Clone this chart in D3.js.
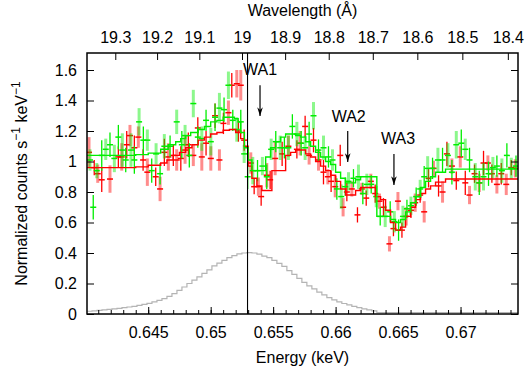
<!DOCTYPE html>
<html>
<head>
<meta charset="utf-8">
<script src="https://cdn.jsdelivr.net/npm/d3@7"></script>
<style>
body { margin: 0; background: #fff; }
svg text { font-family: "Liberation Sans", Arial, Helvetica, sans-serif; fill: #000; }
</style>
</head>
<body>
<div id="canvas"></div>
<script>
var WIDTH = 526, HEIGHT = 374;
var MARGIN = {left: 87, right: 8, top: 53, bottom: 60};
var HC = 12.3984; // keV * Angstrom
var FONT_SIZE = 16;

// axes
var energyDomain = [0.6401, 0.6746];
var countDomain = [0, 1.7115];
var energyTicks = [0.645, 0.65, 0.655, 0.66, 0.665, 0.67];
var wavelengthTicks = [19.3, 19.2, 19.1, 19, 18.9, 18.8, 18.7, 18.6, 18.5, 18.4];
var countTicks = [0, 0.2, 0.4, 0.6, 0.8, 1, 1.2, 1.4, 1.6];

// red spectrum
var redEnergy = [0.64026,0.64068,0.64096,0.64128,0.64194,0.64261,0.64288,0.64328,0.64354,0.64389,
  0.64421,0.64459,0.64493,0.64560,0.64595,0.64629,0.64661,0.64701,0.64728,0.64761,
  0.64795,0.64821,0.64861,0.64897,0.64929,0.64963,0.65001,0.65035,0.65070,0.65102,
  0.65142,0.65169,0.65209,0.65222,0.65241,0.65268,0.65321,0.65348,0.65382,0.65404,
  0.65449,0.65476,0.65516,0.65572,0.65622,0.65690,0.65716,0.65756,0.65788,0.65823,
  0.65863,0.65903,0.65938,0.65964,0.65997,0.66037,0.66060,0.66090,0.66130,0.66175,
  0.66210,0.66245,0.66282,0.66317,0.66351,0.66383,0.66431,0.66463,0.66499,0.66531,
  0.66565,0.66603,0.66637,0.66677,0.66709,0.66744,0.66784,0.66824,0.66856,0.66891,
  0.66931,0.66966,0.66998,0.67038,0.67072,0.67112,0.67150,0.67184,0.67219,0.67251,
  0.67291,0.67326,0.67366,0.67406,0.67438];
var redCounts = [1.06,0.96,0.92,0.88,0.885,1.03,1.03,1.11,1.17,1.09,
  1.16,1.01,0.93,0.90,0.82,1.06,1.03,1.04,1.01,1.02,
  1.075,1.11,1.04,1.22,1.03,1.12,1.02,1.30,1.01,1.25,
  1.32,1.50,1.51,1.20,1.50,1.14,0.99,0.835,0.835,0.77,
  0.91,0.88,1.02,1.05,1.10,1.08,1.12,1.23,1.04,1.14,
  1.01,0.93,0.90,0.87,0.835,1.04,0.70,0.80,0.82,0.65,
  0.82,0.76,0.87,0.79,0.74,0.70,0.46,0.56,0.74,0.55,
  0.64,0.68,0.73,0.78,0.67,0.89,0.955,0.84,0.80,1.05,
  0.97,0.875,1.03,0.86,0.78,0.92,0.86,0.99,0.99,0.92,
  0.85,0.92,0.85,0.96,0.955];
var redErr = [0.10,0.05,0.06,0.08,0.09,0.07,0.09,0.09,0.07,0.08,
  0.07,0.07,0.09,0.06,0.08,0.09,0.09,0.07,0.07,0.08,
  0.09,0.08,0.07,0.07,0.09,0.08,0.08,0.08,0.07,0.07,
  0.08,0.08,0.09,0.07,0.10,0.07,0.07,0.05,0.06,0.06,
  0.08,0.06,0.11,0.08,0.07,0.06,0.08,0.07,0.06,0.08,
  0.07,0.08,0.05,0.07,0.07,0.07,0.06,0.06,0.05,0.05,
  0.04,0.05,0.05,0.06,0.05,0.06,0.05,0.05,0.06,0.05,
  0.06,0.05,0.06,0.05,0.07,0.06,0.05,0.07,0.07,0.08,
  0.05,0.06,0.07,0.08,0.06,0.06,0.06,0.08,0.05,0.06,
  0.06,0.07,0.07,0.05,0.06];

// green spectrum
var greenEnergy = [0.64034,0.64060,0.64088,0.64128,0.64160,0.64194,0.64229,0.64261,0.64293,0.64320,
  0.64362,0.64389,0.64427,0.64461,0.64493,0.64528,0.64563,0.64595,0.64629,0.64675,
  0.64728,0.64769,0.64795,0.64829,0.64861,0.64897,0.64929,0.64963,0.65001,0.65035,
  0.65070,0.65107,0.65142,0.65177,0.65209,0.65241,0.65268,0.65296,0.65337,0.65375,
  0.65414,0.65449,0.65484,0.65521,0.65556,0.65590,0.65622,0.65654,0.65690,0.65724,
  0.65756,0.65788,0.65823,0.65863,0.65903,0.65943,0.65975,0.66010,0.66045,0.66077,
  0.66103,0.66143,0.66183,0.66218,0.66250,0.66285,0.66325,0.66357,0.66397,0.66437,
  0.66470,0.66504,0.66539,0.66571,0.66603,0.66645,0.66677,0.66709,0.66737,0.66776,
  0.66819,0.66856,0.66899,0.66931,0.66966,0.67006,0.67038,0.67072,0.67118,0.67150,
  0.67184,0.67224,0.67259,0.67291,0.67331,0.67371,0.67406,0.67444];
var greenCounts = [1.01,0.70,0.94,1.04,1.08,1.11,1.02,1.16,1.075,1.01,
  1.075,1.01,1.26,1.14,1.14,0.94,1.05,0.92,1.10,1.10,
  1.26,1.11,1.17,1.04,1.38,1.16,1.15,1.27,1.13,1.29,
  1.35,1.34,1.50,1.27,1.21,1.26,1.05,0.90,0.94,0.94,
  0.97,0.90,1.08,1.13,1.09,1.09,1.09,1.23,1.18,1.12,
  1.09,1.18,1.30,1.075,1.09,1.03,1.01,0.82,0.77,0.835,
  0.87,0.89,0.90,0.79,0.85,0.85,0.77,0.64,0.64,0.67,
  0.605,0.55,0.64,0.69,0.71,0.77,0.82,0.90,0.955,0.955,
  1.01,1.01,1.04,0.93,1.11,1.12,1.08,1.01,0.90,0.86,
  0.90,0.92,0.96,0.97,0.94,1.04,0.955,0.97];
var greenErr = [0.07,0.08,0.05,0.10,0.07,0.08,0.09,0.08,0.11,0.08,
  0.11,0.09,0.09,0.09,0.07,0.08,0.07,0.07,0.08,0.07,
  0.08,0.09,0.07,0.08,0.09,0.07,0.08,0.07,0.09,0.09,
  0.10,0.08,0.09,0.07,0.08,0.08,0.06,0.08,0.09,0.07,
  0.06,0.08,0.07,0.07,0.08,0.07,0.08,0.08,0.08,0.08,
  0.08,0.08,0.09,0.07,0.08,0.07,0.07,0.07,0.08,0.06,
  0.06,0.06,0.08,0.07,0.07,0.06,0.07,0.06,0.07,0.07,
  0.07,0.07,0.07,0.06,0.06,0.06,0.06,0.07,0.08,0.07,
  0.08,0.08,0.08,0.08,0.09,0.09,0.07,0.08,0.09,0.08,
  0.09,0.08,0.07,0.07,0.08,0.08,0.07,0.07];

// folded models (step functions, value holds until next energy)
var modelRedEnergy = [0.6401,0.6420,0.6440,0.6450,0.6460,0.6465,0.6470,0.6475,0.6480,0.6485,
  0.6490,0.6495,0.6500,0.6505,0.6510,0.6515,0.6520,0.6524,0.6527,0.6530,
  0.6533,0.6537,0.6541,0.6549,0.6560,0.6564,0.6568,0.6576,0.6580,0.6584,
  0.6588,0.6592,0.6596,0.6600,0.6604,0.6608,0.6612,0.6616,0.6620,0.6632,
  0.6636,0.6640,0.6644,0.6648,0.6652,0.6656,0.6660,0.6664,0.6668,0.6672,
  0.6676,0.6680,0.6688,0.6746];
var modelRed = [0.96,0.96,0.965,0.975,0.99,1.01,1.04,1.06,1.09,1.11,
  1.14,1.16,1.18,1.19,1.205,1.21,1.19,1.15,1.10,0.97,
  0.89,0.84,0.81,0.94,1.04,1.06,1.075,1.05,1.03,1.00,
  0.97,0.94,0.91,0.87,0.82,0.78,0.78,0.81,0.83,0.77,
  0.75,0.68,0.60,0.55,0.57,0.64,0.70,0.75,0.79,0.82,
  0.84,0.865,0.885,0.885];
var modelGreenEnergy = [0.6401,0.6440,0.6450,0.6460,0.6466,0.6472,0.6476,0.6480,0.6484,0.6490,
  0.6495,0.6500,0.6505,0.6510,0.6519,0.6522,0.6524,0.6527,0.6530,0.6533,
  0.6544,0.6548,0.6552,0.6556,0.6560,0.6568,0.6572,0.6576,0.6580,0.6584,
  0.6588,0.6592,0.6596,0.6600,0.6604,0.6608,0.6616,0.6620,0.6633,0.6644,
  0.6648,0.6652,0.6656,0.6660,0.6664,0.6668,0.6672,0.6676,0.6680,0.6688,
  0.6746];
var modelGreen = [1.04,1.045,1.055,1.08,1.11,1.13,1.15,1.17,1.19,1.21,
  1.23,1.26,1.27,1.29,1.28,1.26,1.19,1.09,1.01,0.94,
  1.03,1.09,1.13,1.16,1.18,1.17,1.16,1.13,1.10,1.06,
  1.03,1.00,0.98,0.93,0.89,0.86,0.88,0.90,0.64,0.62,
  0.60,0.62,0.67,0.73,0.77,0.83,0.87,0.90,0.93,0.95,
  0.95];

// grey profile
var profileEnergy = [0.6401,0.6405,0.6409,0.6413,0.6417,0.6421,0.6425,0.6429,0.6433,0.6437,
  0.6441,0.6445,0.6449,0.6453,0.6457,0.6461,0.6465,0.6469,0.6473,0.6477,
  0.6481,0.6485,0.6489,0.6493,0.6497,0.6501,0.6505,0.6509,0.6513,0.6517,
  0.6521,0.6525,0.6529,0.6533,0.6537,0.6541,0.6545,0.6549,0.6553,0.6557,
  0.6561,0.6565,0.6569,0.6573,0.6577,0.6581,0.6585,0.6589,0.6593,0.6597,
  0.6601,0.6605,0.6609,0.6613,0.6617,0.6621,0.6625,0.6629,0.6633,0.6746];
var profileCounts = [0.018,0.021,0.024,0.027,0.030,0.033,0.037,0.042,0.046,0.050,
  0.056,0.063,0.070,0.080,0.090,0.101,0.115,0.133,0.155,0.177,
  0.200,0.222,0.243,0.266,0.290,0.315,0.334,0.352,0.370,0.383,
  0.394,0.400,0.402,0.400,0.392,0.380,0.370,0.352,0.332,0.312,
  0.285,0.260,0.234,0.208,0.185,0.165,0.144,0.125,0.108,0.093,
  0.080,0.069,0.060,0.050,0.042,0.034,0.027,0.021,0.010,0.010];

// annotations
var lineEnergy = 0.65295;
var waLabels = ['WA1', 'WA2', 'WA3'];
var waArrowEnergy = [0.65395, 0.66097, 0.66467];
var waTextEnergy = [0.65395, 0.66105, 0.66500];
var waTail = [1.50, 1.20, 1.049];
var waTip = [1.298, 0.997, 0.846];
var waTextCount = [1.567, 1.259, 1.115];

var RED = '#ff0000';
var GREEN = '#00ee00';

var svg = d3.select('#canvas').append('svg')
    .attr('width', WIDTH)
    .attr('height', HEIGHT);

var x = d3.scaleLinear().domain(energyDomain).range([MARGIN.left, WIDTH - MARGIN.right]);
var y = d3.scaleLinear().domain(countDomain).range([HEIGHT - MARGIN.bottom, MARGIN.top]);
// wavelength axis isn't linear in energy, map ticks through energy
function wl(l) { return x(HC / l); }

var defs = svg.append('defs');
defs.append('clipPath').attr('id', 'plot')
  .append('rect')
    .attr('x', MARGIN.left).attr('y', MARGIN.top)
    .attr('width', WIDTH - MARGIN.left - MARGIN.right)
    .attr('height', HEIGHT - MARGIN.top - MARGIN.bottom);

defs.append('marker')
    .attr('id', 'arrow')
    .attr('viewBox', '0 -4 10 8')
    .attr('refX', 10).attr('refY', 0)
    .attr('markerUnits', 'userSpaceOnUse')
    .attr('markerWidth', 9).attr('markerHeight', 7)
    .attr('orient', 'auto')
  .append('path')
    .attr('d', 'M0,-3.2L10,0L0,3.2L3,0Z')
    .attr('fill', '#000');

var plot = svg.append('g').attr('clip-path', 'url(#plot)');

// grey profile
var step = d3.line().curve(d3.curveStepAfter)
    .x(function(d) { return x(d[0]); })
    .y(function(d) { return y(d[1]); });

plot.append('path')
    .attr('d', step(d3.zip(profileEnergy, profileCounts)))
    .attr('fill', 'none')
    .attr('stroke', '#b4b4b4')
    .attr('stroke-width', 1.2);

function draw_points(energy, counts, err, color) {
    var g = plot.append('g');
    for (var i = 0; i < energy.length; ++i) {
        var light = (i % 2 == 0);
        var cx = x(energy[i]);
        g.append('line')
            .attr('x1', cx).attr('x2', cx)
            .attr('y1', y(counts[i] - err[i]))
            .attr('y2', y(counts[i] + err[i]))
            .attr('stroke', color)
            .attr('stroke-opacity', light ? 0.45 : 1)
            .attr('stroke-width', light ? 3 : 1.3);
        g.append('line')
            .attr('x1', cx - 3).attr('x2', cx + 3)
            .attr('y1', y(counts[i])).attr('y2', y(counts[i]))
            .attr('stroke', color)
            .attr('stroke-width', 1.5);
    }
}

draw_points(redEnergy, redCounts, redErr, RED);
draw_points(greenEnergy, greenCounts, greenErr, GREEN);

plot.append('path')
    .attr('d', step(d3.zip(modelRedEnergy, modelRed)))
    .attr('fill', 'none')
    .attr('stroke', RED)
    .attr('stroke-width', 1.4);

plot.append('path')
    .attr('d', step(d3.zip(modelGreenEnergy, modelGreen)))
    .attr('fill', 'none')
    .attr('stroke', GREEN)
    .attr('stroke-width', 1.4);

// vertical marker line
svg.append('line')
    .attr('x1', x(lineEnergy)).attr('x2', x(lineEnergy))
    .attr('y1', y(countDomain[1])).attr('y2', y(0))
    .attr('stroke', '#000')
    .attr('stroke-width', 1.1);

// axes
svg.append('g')
    .attr('transform', 'translate(0,' + y(0) + ')')
    .call(d3.axisBottom(x).tickValues(energyTicks).tickSizeInner(-7).tickSizeOuter(0)
        .tickPadding(13).tickFormat(d3.format('~g')));
svg.append('g')
    .attr('transform', 'translate(0,' + y(0) + ')')
    .call(d3.axisBottom(x).ticks(35).tickSizeInner(-4).tickSizeOuter(0).tickFormat(''));

svg.append('g')
    .attr('transform', 'translate(' + x(energyDomain[0]) + ',0)')
    .call(d3.axisLeft(y).tickValues(countTicks).tickSizeInner(-7).tickSizeOuter(0)
        .tickPadding(10).tickFormat(d3.format('~g')));
svg.append('g')
    .attr('transform', 'translate(' + x(energyDomain[1]) + ',0)')
    .call(d3.axisRight(y).tickValues(countTicks).tickSizeInner(-7).tickSizeOuter(0).tickFormat(''));

var topAxis = svg.append('g').attr('transform', 'translate(0,' + y(countDomain[1]) + ')');
wavelengthTicks.forEach(function(l) {
    topAxis.append('line')
        .attr('x1', wl(l)).attr('x2', wl(l))
        .attr('y1', 0).attr('y2', 7)
        .attr('stroke', '#000');
    topAxis.append('text')
        .attr('x', wl(l)).attr('y', -10)
        .attr('text-anchor', 'middle')
        .style('font-size', FONT_SIZE + 'px')
        .text(d3.format('~g')(l));
});

svg.selectAll('.domain').remove();
svg.selectAll('.tick line').attr('stroke', '#000');
svg.selectAll('.tick text').style('font-size', FONT_SIZE + 'px').attr('fill', '#000');

svg.append('rect')
    .attr('x', MARGIN.left).attr('y', MARGIN.top)
    .attr('width', WIDTH - MARGIN.left - MARGIN.right)
    .attr('height', HEIGHT - MARGIN.top - MARGIN.bottom)
    .attr('fill', 'none')
    .attr('stroke', '#000')
    .attr('stroke-width', 1.5);

// titles
var midX = (MARGIN.left + WIDTH - MARGIN.right) / 2;
svg.append('text')
    .attr('x', midX).attr('y', 363)
    .attr('text-anchor', 'middle')
    .style('font-size', FONT_SIZE + 'px')
    .text('Energy (keV)');
svg.append('text')
    .attr('x', midX).attr('y', 16)
    .attr('text-anchor', 'middle')
    .style('font-size', FONT_SIZE + 'px')
    .text('Wavelength (Å)');

var ylab = svg.append('text')
    .attr('transform', 'translate(27,' + ((MARGIN.top + HEIGHT - MARGIN.bottom) / 2) + ') rotate(-90)')
    .attr('text-anchor', 'middle')
    .style('font-size', FONT_SIZE + 'px');
ylab.append('tspan').text('Normalized counts s');
ylab.append('tspan').attr('dy', -7).style('font-size', '12px').text('−1');
ylab.append('tspan').attr('dy', 7).text(' keV');
ylab.append('tspan').attr('dy', -7).style('font-size', '12px').text('−1');

// absorber labels
for (var k = 0; k < waLabels.length; ++k) {
    svg.append('line')
        .attr('x1', x(waArrowEnergy[k])).attr('x2', x(waArrowEnergy[k]))
        .attr('y1', y(waTail[k])).attr('y2', y(waTip[k]))
        .attr('stroke', '#000')
        .attr('stroke-width', 1.2)
        .attr('marker-end', 'url(#arrow)');
    svg.append('text')
        .attr('x', x(waTextEnergy[k])).attr('y', y(waTextCount[k]))
        .attr('text-anchor', 'middle')
        .style('font-size', FONT_SIZE + 'px')
        .text(waLabels[k]);
}
</script>
</body>
</html>
